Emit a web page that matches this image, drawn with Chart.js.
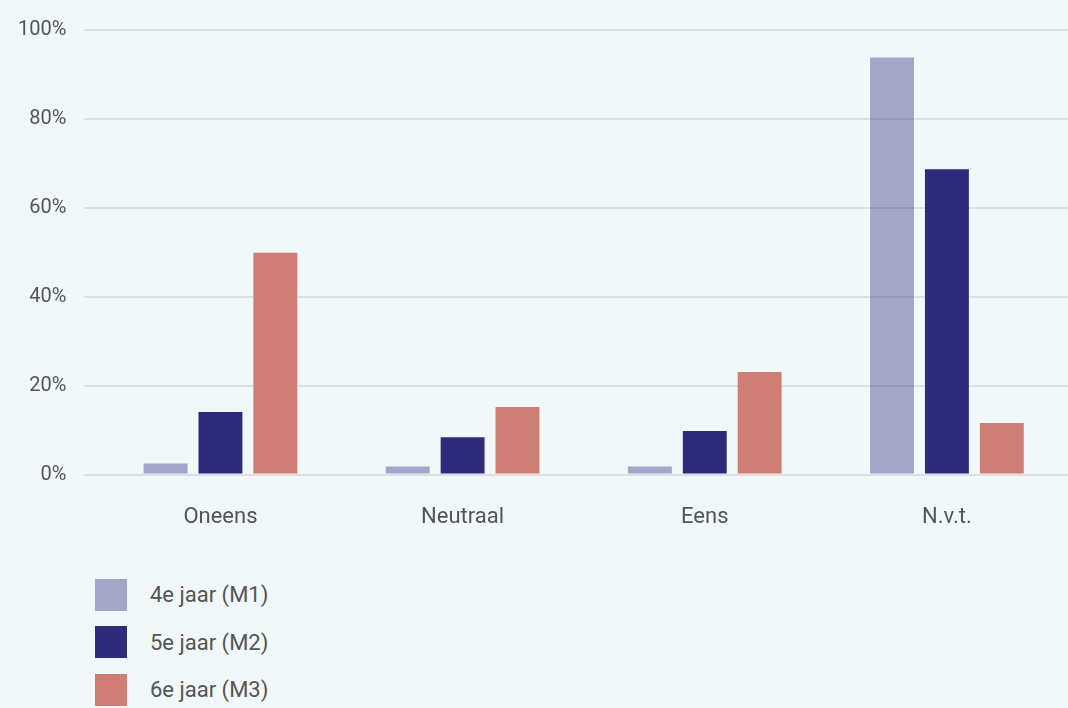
<!DOCTYPE html>
<html lang="nl">
<head>
<meta charset="utf-8">
<title>Oneens / Neutraal / Eens / N.v.t.</title>
<script src="https://cdn.jsdelivr.net/npm/chart.js@4/dist/chart.umd.min.js"></script>
<style>
  html, body { margin: 0; padding: 0; background: #f1f8fa; }
  body { width: 1068px; height: 708px; overflow: hidden; font-family: Roboto, "Open Sans", sans-serif; }
  .chart-wrap { position: relative; width: 1068px; height: 553px; }
  #legend { list-style: none; margin: 18px 0 0 0; padding: 0 0 0 95px; }
  #legend li { display: flex; align-items: center; height: 47.5px; color: #555; font-size: 22px; }
  #legend .box { width: 32px; height: 32px; margin-right: 23px; flex: none; }
</style>
</head>
<body>
<div class="chart-wrap"><canvas id="antwoordChart"></canvas></div>
<ul id="legend"></ul>
<script>
// categorieën en percentages per leerjaar
const categories = ['Oneens', 'Neutraal', 'Eens', 'N.v.t.'];
const seriesLabels = ['4e jaar (M1)', '5e jaar (M2)', '6e jaar (M3)'];
const m1Values = [2.5, 1.8, 1.8, 93.8];
const m2Values = [14.1, 8.4, 9.8, 68.7];
const m3Values = [49.9, 15.2, 23.1, 11.6];
const yTicks = [0, 20, 40, 60, 80, 100];

const colors = ['rgba(47, 43, 124, 0.4)', '#2f2b7c', '#cf7e76'];

const ctx = document.getElementById('antwoordChart').getContext('2d');

const chart = new Chart(ctx, {
    type: 'bar',
    data: {
        labels: categories,
        datasets: [m1Values, m2Values, m3Values].map((values, i) => ({
            label: seriesLabels[i],
            data: values,
            backgroundColor: colors[i],
            borderWidth: 0,
            categoryPercentage: 0.68,
            barPercentage: 0.8
        }))
    },
    options: {
        responsive: true,
        maintainAspectRatio: false,
        animation: false,
        layout: { padding: { top: 14, right: 0, left: 0, bottom: 0 } },
        plugins: {
            legend: { display: false },
            tooltip: { enabled: false }
        },
        scales: {
            x: {
                grid: { display: false },
                border: { display: false },
                ticks: { color: '#555', font: { family: 'Roboto', size: 22 }, padding: 22 }
            },
            y: {
                min: 0,
                max: 100,
                afterBuildTicks: (axis) => { axis.ticks = yTicks.map(v => ({ value: v })); },
                grid: { color: '#e0dee5', lineWidth: 2, tickLength: 15, drawTicks: true },
                border: { display: false },
                ticks: {
                    color: '#555',
                    font: { family: 'Roboto', size: 20 },
                    padding: 18,
                    callback: (value) => value + '%'
                }
            }
        }
    }
});

// legenda onder de grafiek, verticaal
const legendEl = document.getElementById('legend');
chart.data.datasets.forEach(ds => {
    const li = document.createElement('li');
    const box = document.createElement('span');
    box.className = 'box';
    box.style.background = ds.backgroundColor;
    li.appendChild(box);
    li.appendChild(document.createTextNode(ds.label));
    legendEl.appendChild(li);
});
</script>
</body>
</html>
